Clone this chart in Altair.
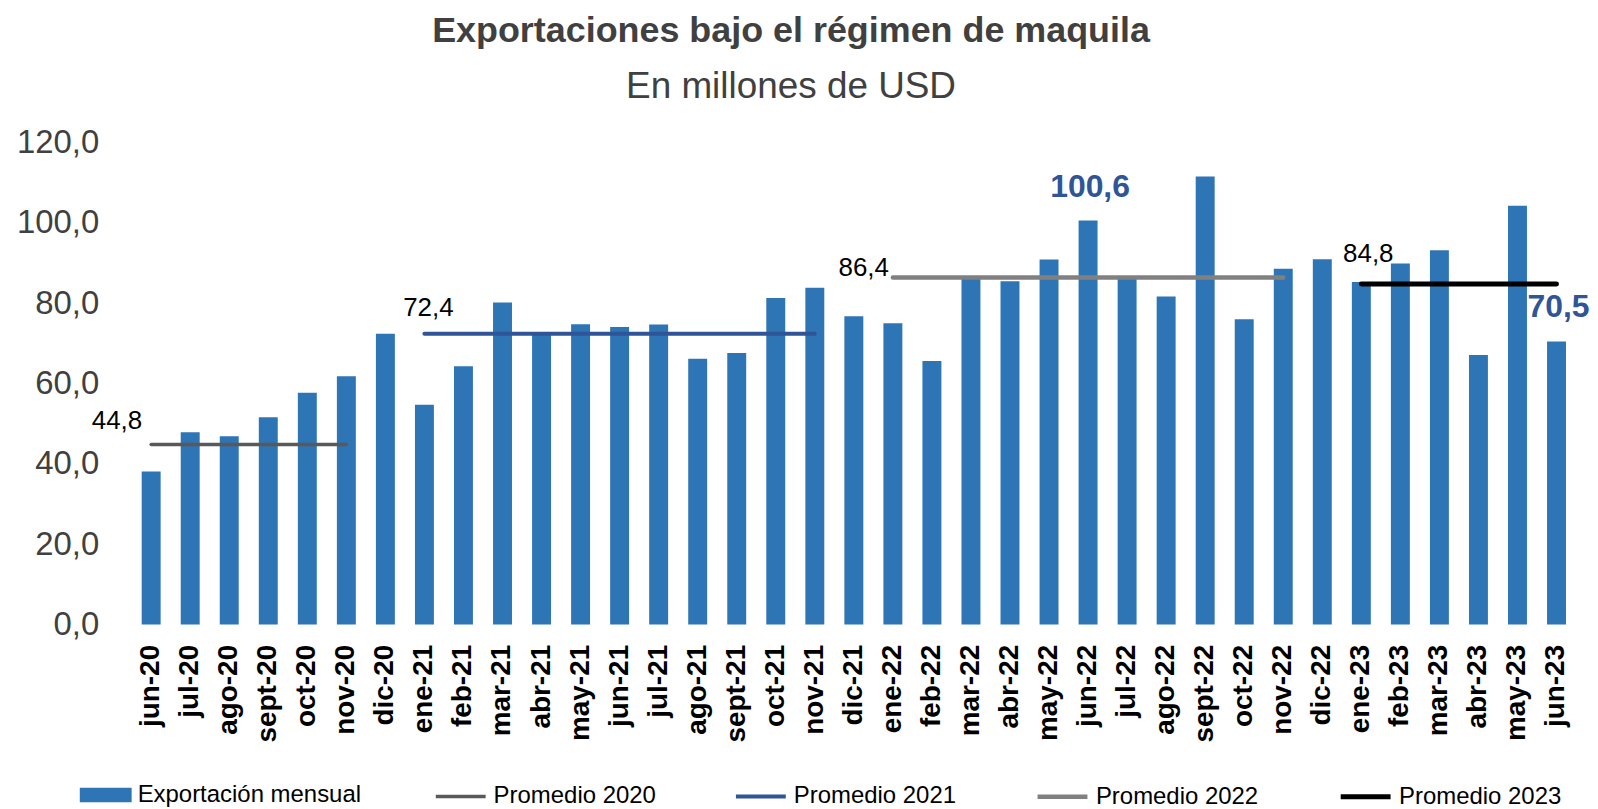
import altair as alt
import pandas as pd

# ---------------- data ----------------
months = ["jun-20", "jul-20", "ago-20", "sept-20", "oct-20", "nov-20", "dic-20",
          "ene-21", "feb-21", "mar-21", "abr-21", "may-21", "jun-21", "jul-21",
          "ago-21", "sept-21", "oct-21", "nov-21", "dic-21",
          "ene-22", "feb-22", "mar-22", "abr-22", "may-22", "jun-22", "jul-22",
          "ago-22", "sept-22", "oct-22", "nov-22", "dic-22",
          "ene-23", "feb-23", "mar-23", "abr-23", "may-23", "jun-23"]
exports = [38.1, 47.9, 46.9, 51.6, 57.7, 61.8, 72.4,
           54.7, 64.3, 80.2, 72.8, 74.8, 74.1, 74.7,
           66.2, 67.6, 81.3, 83.9, 76.8,
           75.0, 65.6, 86.1, 85.5, 90.9, 100.6, 86.1,
           81.7, 111.6, 76.0, 88.6, 91.0,
           85.3, 89.9, 93.2, 67.1, 104.3, 70.5]
bar_series = "Exportación mensual"

avg_series = ["Promedio 2020", "Promedio 2021", "Promedio 2022", "Promedio 2023"]
avg_values = [44.8, 72.4, 86.4, 84.8]
avg_start = ["jun-20", "ene-21", "ene-22", "ene-23"]
avg_end = ["nov-20", "nov-21", "nov-22", "jun-23"]
avg_labels = ["44,8", "72,4", "86,4", "84,8"]
avg_colors = ["#595959", "#2F5597", "#808080", "#000000"]
avg_widths = [3.5, 5, 5.5, 5.5]

highlight_months = ["jun-22", "jun-23"]
highlight_labels = ["100,6", "70,5"]

y_ticks = [0, 20, 40, 60, 80, 100, 120]

# ---------------- tables ----------------
bars_df = pd.DataFrame({"mes": months, "valor": exports, "serie": bar_series})

line_rows = []
for s, v, a, b, lab in zip(avg_series, avg_values, avg_start, avg_end, avg_labels):
    line_rows.append({"serie": s, "mes": a, "valor": v, "etiqueta": lab})
    line_rows.append({"serie": s, "mes": b, "valor": v, "etiqueta": lab})
lines_df = pd.DataFrame(line_rows)
labels_df = pd.DataFrame({"serie": avg_series, "mes": avg_start,
                          "valor": avg_values, "etiqueta": avg_labels})

hl_df = bars_df[bars_df["mes"].isin(highlight_months)].copy()
hl_df["etiqueta"] = highlight_labels

FONT = "Liberation Sans"

x_enc = alt.X("mes:N", sort=months,
              scale=alt.Scale(domain=months, paddingInner=0.51, paddingOuter=0.255),
              axis=alt.Axis(title=None, labelAngle=-90, labelFont=FONT,
                            labelFontWeight="bold", labelFontSize=28,
                            labelColor="#000000", labelPadding=20,
                            ticks=False, domain=False, grid=False, labelAlign="right",
                            labelBaseline="middle"))
y_enc = alt.Y("valor:Q",
              scale=alt.Scale(domain=[0, 120], nice=False),
              axis=alt.Axis(title=None, values=y_ticks, grid=False, ticks=False,
                            domain=False, labelFont=FONT, labelFontSize=33,
                            labelColor="#404040", labelPadding=33,
                            labelExpr="replace(format(datum.value, '.1f'), '.', ',')"))

legend_common = dict(title=None, orient="none", legendY=628, direction="horizontal",
                     labelFont=FONT, labelFontSize=24, labelColor="#000000",
                     labelOffset=6, labelLimit=400)

bars = alt.Chart(bars_df).mark_bar(size=19).encode(
    x=x_enc,
    y=y_enc,
    fill=alt.Fill("serie:N",
                  scale=alt.Scale(domain=[bar_series], range=["#2E75B6"]),
                  legend=alt.Legend(legendX=-52,
                                    symbolType="M-1,-0.28H1V0.28H-1Z",
                                    symbolSize=2704, symbolStrokeWidth=0,
                                    **legend_common)),
)

line_legend = alt.Legend(legendX=303, symbolType="stroke", symbolSize=2500,
                         columnPadding=72, **legend_common)

lines = alt.Chart(lines_df).mark_line(strokeCap="round").encode(
    x=alt.X("mes:N", sort=months),
    y=alt.Y("valor:Q"),
    detail="serie:N",
    stroke=alt.Stroke("serie:O",
                      scale=alt.Scale(domain=avg_series, range=avg_colors),
                      legend=line_legend),
    strokeWidth=alt.StrokeWidth("serie:O",
                                scale=alt.Scale(domain=avg_series, range=avg_widths),
                                legend=line_legend),
)

label_style = {
    "Promedio 2020": dict(align="right", dx=-9, dy=-24),
    "Promedio 2021": dict(align="center", dx=4, dy=-26),
    "Promedio 2022": dict(align="right", dx=-4, dy=-10),
    "Promedio 2023": dict(align="center", dx=7, dy=-30),
}
avg_text_layers = []
for s in avg_series:
    st = label_style[s]
    avg_text_layers.append(
        alt.Chart(labels_df).transform_filter(alt.datum.serie == s).mark_text(
            font=FONT, fontSize=26, color="#000000", baseline="middle", **st
        ).encode(x=alt.X("mes:N", sort=months), y=alt.Y("valor:Q"), text="etiqueta:N")
    )

hl_text = alt.Chart(hl_df).mark_text(
    font=FONT, fontSize=32, fontWeight="bold", color="#2F5597",
    baseline="middle", align="center", dx=2, dy=-34
).encode(x=alt.X("mes:N", sort=months), y=alt.Y("valor:Q"), text="etiqueta:N")

chart = alt.layer(bars, lines, *avg_text_layers, hl_text).properties(
    width=1448.5,
    height=483,
    background="#FFFFFF",
    autosize=alt.AutoSizeParams(type="none"),
    padding={"left": 124, "top": 134, "right": 14, "bottom": 184},
    title=alt.TitleParams(
        text="Exportaciones bajo el régimen de maquila",
        subtitle="En millones de USD",
        font=FONT, fontSize=36, fontWeight="bold", color="#404040",
        subtitleFont=FONT, subtitleFontSize=37, subtitleColor="#404040",
        subtitlePadding=19, anchor="middle", frame="group", dx=-63, offset=21,
    ),
).configure_view(strokeWidth=0, stroke="transparent")

chart.save("out.html", embed_options={"renderer": "svg", "actions": False})
